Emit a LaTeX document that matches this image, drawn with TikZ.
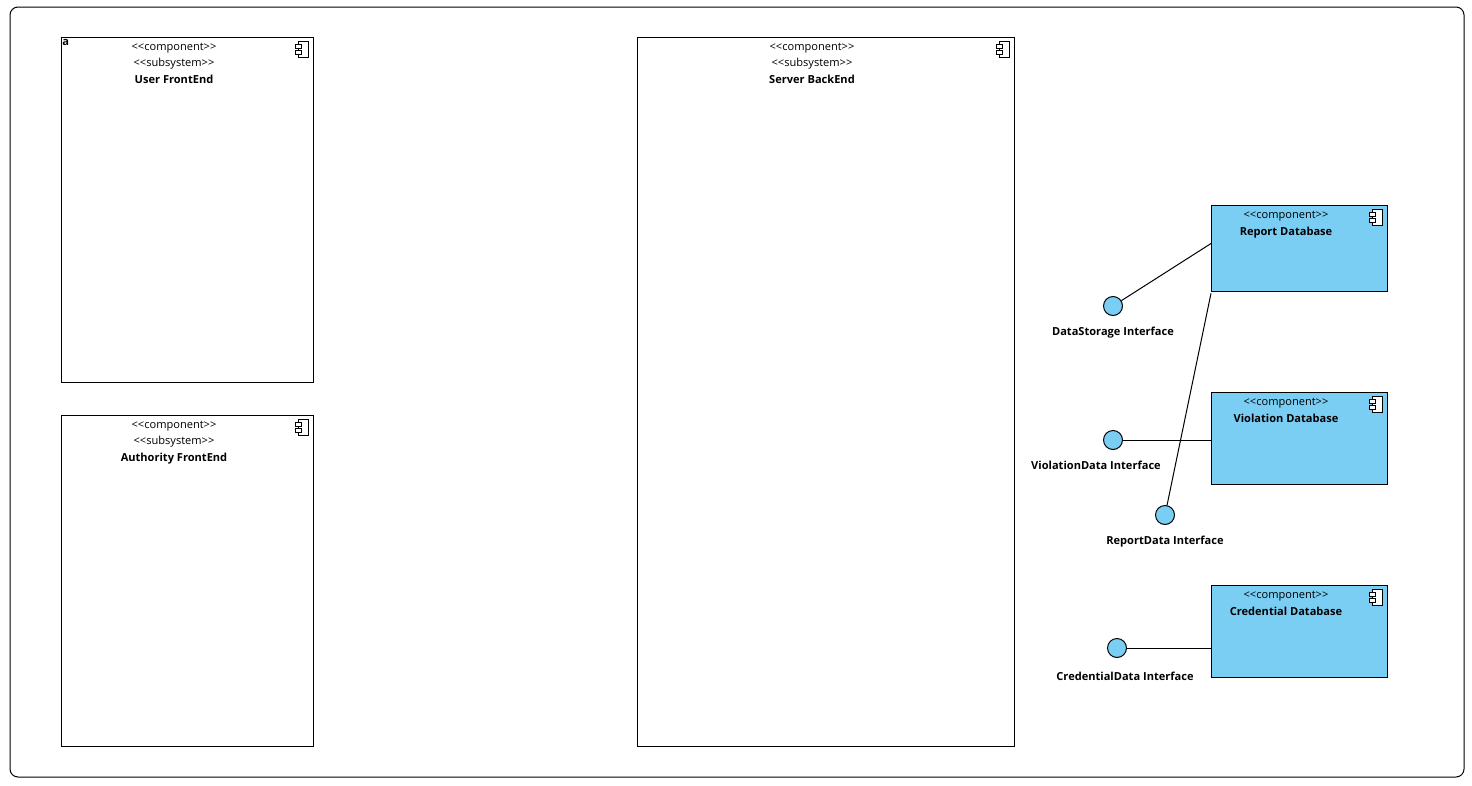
\documentclass[tikz,border=0pt]{standalone}
\usepackage{fontspec}
\setmainfont{Open Sans}[Ligatures=TeXOff]
\usetikzlibrary{calc}
\definecolor{dbblue}{RGB}{122,206,244}
\tikzset{
  px/.style={x=0.75pt,y=-0.75pt},
  box/.style={draw=black,line width=0.75pt,fill=white,anchor=north west,inner sep=0pt,minimum width={#1}},
  dbbox/.style={draw=black,line width=0.75pt,fill=dbblue,anchor=north west,inner sep=0pt},
  iface/.style={circle,draw=black,line width=0.75pt,fill=dbblue,inner sep=0pt,minimum size={19*0.75pt}},
  stereo/.style={font=\fontsize{8.3}{9}\selectfont,inner sep=0pt,anchor=base},
  title/.style={font=\fontsize{8.3}{9}\selectfont\bfseries,inner sep=0pt,anchor=base},
  conn/.style={draw=black,line width=0.75pt},
}
\newcommand{\compicon}[2]{%
  \draw[line width=0.75pt,fill=white] (#1+2,#2) rectangle (#1+12,#2+16);
  \draw[line width=0.75pt,fill=white] (#1-1,#2+3) rectangle (#1+5,#2+7);
  \draw[line width=0.75pt,fill=white] (#1-1,#2+9) rectangle (#1+5,#2+13);
}
\newcommand{\stc}{{<}{<}component{>}{>}}
\newcommand{\sts}{{<}{<}subsystem{>}{>}}
\begin{document}
\begin{tikzpicture}[px]
\useasboundingbox (0,0) rectangle (1472,786);
\draw[line width=0.75pt,rounded corners=6pt] (10,7) rectangle (1464,777);
% subsystems
\node[box={252*0.75pt},minimum height={345*0.75pt}] (uf) at (61,37) {};
\node[box={252*0.75pt},minimum height={331*0.75pt}] (af) at (61,415) {};
\node[box={377*0.75pt},minimum height={709*0.75pt}] (sb) at (637,37) {};
\compicon{296}{41}
\compicon{296}{419}
\compicon{997}{41}
\node[title,anchor=base west] (ua) at (62,45) {a};
\node[stereo] (uf1) at (174,50) {\stc};
\node[stereo] (uf2) at (174,66) {\sts};
\node[title] (uf3) at (174,83) {User FrontEnd};
\node[stereo] (af1) at (174,428) {\stc};
\node[stereo] (af2) at (174,444) {\sts};
\node[title] (af3) at (174,461) {Authority FrontEnd};
\node[stereo] (sb1) at (812,50) {\stc};
\node[stereo] (sb2) at (812,66) {\sts};
\node[title] (sb3) at (812,83) {Server BackEnd};
% databases
\node[dbbox,minimum width={176*0.75pt},minimum height={86*0.75pt}] (rdb) at (1211,205) {};
\node[dbbox,minimum width={176*0.75pt},minimum height={92*0.75pt}] (vdb) at (1211,392) {};
\node[dbbox,minimum width={176*0.75pt},minimum height={92*0.75pt}] (cdb) at (1211,585) {};
\compicon{1370}{209}
\compicon{1370}{396}
\compicon{1370}{589}
\node[stereo] (rdb1) at (1286,218) {\stc};
\node[title] (rdb2) at (1286,235) {Report Database};
\node[stereo] (vdb1) at (1286,405) {\stc};
\node[title] (vdb2) at (1286,422) {Violation Database};
\node[stereo] (cdb1) at (1286,598) {\stc};
\node[title] (cdb2) at (1286,615) {Credential Database};
% interfaces
\node[iface] (ds) at (1113,306) {};
\node[iface] (vd) at (1113,440) {};
\node[iface] (rd) at (1165,515) {};
\node[iface] (cd) at (1117,648) {};
\node[title] (dsl) at (1113,335) {DataStorage Interface};
\node[title] (vdl) at (1096,469) {ViolationData Interface};
\node[title] (rdl) at (1165,544) {ReportData Interface};
\node[title] (cdl) at (1125,680) {CredentialData Interface};
% connectors
\draw[conn] (ds) -- ([yshift=3.75pt]rdb.west);
\draw[conn] (vd) -- (vd -| vdb.west);
\draw[conn] (rd) -- ([yshift=-1pt]rdb.south west);
\draw[conn] (cd) -- (cd -| cdb.west);
\end{tikzpicture}
\end{document}
